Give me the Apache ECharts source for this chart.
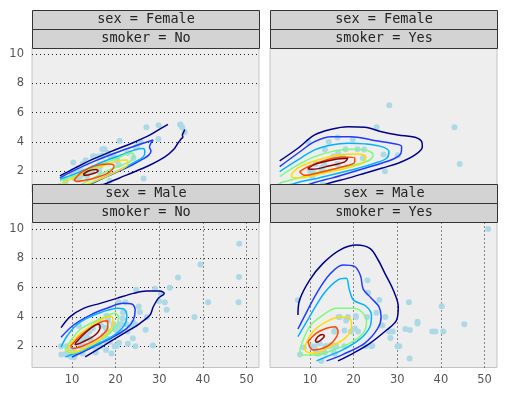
<!DOCTYPE html>
<html>
<head>
<meta charset="utf-8">
<title>tips facets</title>
<script src="https://cdn.jsdelivr.net/npm/echarts@6/dist/echarts.min.js"></script>
<style>
  html, body { margin: 0; padding: 0; background: #fff; }
  #main { width: 507px; height: 398px; }
</style>
</head>
<body>
<div id="main"></div>
<script>
// facet titles, order: top-left, top-right, bottom-left, bottom-right
var sexLabels = ['sex = Female', 'sex = Female', 'sex = Male', 'sex = Male'];
var smokerLabels = ['smoker = No', 'smoker = Yes', 'smoker = No', 'smoker = Yes'];
var xTicks = [10, 20, 30, 40, 50];
var yTicks = [2, 4, 6, 8, 10];

// [total_bill, tip]
var femaleNo = [[16.99,1.01],[24.59,3.61],[35.26,5.0],[14.83,3.02],[10.33,1.67],[16.97,3.5],[20.29,2.75],[15.77,2.23],[19.65,3.0],[15.06,3.0],[20.69,2.45],[16.93,3.07],[10.29,2.6],[34.81,5.2],[26.41,1.5],[16.45,2.47],[17.07,3.0],[14.73,2.2],[10.07,1.83],[34.83,5.17],[22.75,3.25],[20.92,4.08],[7.25,1.0],[25.71,4.0],[17.31,3.5],[10.65,1.5],[12.43,1.8],[24.08,2.92],[13.42,1.68],[12.48,2.52],[29.8,4.2],[14.52,2.0],[11.38,2.0],[20.27,2.83],[11.17,1.5],[12.26,2.0],[18.26,3.25],[8.51,1.25],[10.33,2.0],[14.15,2.0],[13.16,2.75],[17.47,3.5],[27.05,5.0],[16.43,2.3],[8.35,1.5],[18.64,1.36],[11.87,1.63],[29.85,5.14],[25.0,3.75],[13.39,2.61],[16.21,2.0],[15.98,3.0],[35.83,4.67],[18.78,3.0]];
var femaleYes = [[3.07,1.0],[26.86,3.14],[25.28,5.0],[5.75,1.0],[16.32,4.3],[11.35,2.5],[15.38,3.0],[44.3,2.5],[22.42,3.48],[14.31,4.0],[17.51,3.0],[10.59,1.61],[10.63,2.0],[9.6,4.0],[20.9,3.5],[18.15,3.5],[19.81,4.19],[43.11,5.0],[13.0,2.0],[12.74,2.01],[13.0,2.0],[16.4,2.5],[16.47,3.23],[12.76,2.23],[13.27,2.5],[28.17,6.5],[12.9,1.1],[30.14,3.09],[13.42,3.48],[16.27,2.5],[10.09,2.0],[22.12,2.88],[27.18,2.0]];
var maleNo = [[10.34,1.66],[21.01,3.5],[23.68,3.31],[25.29,4.71],[8.77,2.0],[26.88,3.12],[15.04,1.96],[14.78,3.23],[10.27,1.71],[15.42,1.57],[18.43,3.0],[21.58,3.92],[16.29,3.71],[20.65,3.35],[17.92,4.08],[39.42,7.58],[19.82,3.18],[17.81,2.34],[13.37,2.0],[12.69,2.0],[21.7,4.3],[9.55,1.45],[18.35,2.5],[17.78,3.27],[24.06,3.6],[16.31,2.0],[18.69,2.31],[31.27,5.0],[16.04,2.24],[17.46,2.54],[13.94,3.06],[9.68,1.32],[30.4,5.6],[18.29,3.0],[22.23,5.0],[32.4,6.0],[28.55,2.05],[18.04,3.0],[12.54,2.5],[9.94,1.56],[25.56,4.34],[19.49,3.51],[48.27,6.73],[17.59,2.64],[20.08,3.15],[20.23,2.01],[12.02,1.97],[10.51,1.25],[27.2,4.0],[22.76,3.0],[17.29,2.71],[16.66,3.4],[15.98,2.03],[13.03,2.0],[18.28,4.0],[24.71,5.85],[21.16,3.0],[22.49,3.5],[12.46,1.5],[18.24,3.76],[14.0,3.0],[38.07,4.0],[23.95,2.55],[29.93,5.07],[11.69,2.31],[14.26,2.5],[15.95,2.0],[8.52,1.48],[22.82,2.18],[19.08,1.5],[34.3,6.7],[41.19,5.0],[9.78,1.73],[7.51,2.0],[14.07,2.5],[13.13,2.0],[17.26,2.74],[24.55,2.0],[19.77,2.0],[48.17,5.0],[16.49,2.0],[21.5,3.5],[12.66,2.5],[13.81,2.0],[24.52,3.48],[20.76,2.24],[31.71,4.5],[20.69,5.0],[7.56,1.44],[48.33,9.0],[20.45,3.0],[13.28,2.72],[11.61,3.39],[10.77,1.47],[10.07,1.25],[29.03,5.92],[17.82,1.75]];
var maleYes = [[38.01,3.0],[11.24,1.76],[20.29,3.21],[13.81,2.0],[11.02,1.98],[18.29,3.76],[15.01,2.09],[17.92,3.08],[19.44,3.0],[32.68,5.0],[28.97,3.0],[40.17,4.73],[27.28,4.0],[12.03,1.5],[21.01,3.0],[15.36,1.64],[20.49,4.06],[25.21,4.29],[16.0,2.0],[50.81,10.0],[15.81,3.16],[7.25,5.15],[31.85,3.18],[16.82,4.0],[32.9,3.11],[17.89,2.0],[14.48,2.0],[34.63,3.55],[34.65,3.68],[23.33,5.65],[45.35,3.5],[23.17,6.5],[40.55,3.0],[30.46,2.0],[23.1,4.0],[15.69,1.5],[28.44,2.56],[15.48,2.02],[16.58,4.0],[10.34,2.0],[13.51,2.0],[18.71,4.0],[20.53,4.0],[26.59,3.41],[38.73,3.0],[24.27,2.03],[30.06,2.0],[25.89,5.16],[28.15,3.0],[11.59,1.5],[7.74,1.44],[12.16,2.2],[8.58,1.92],[13.42,1.58],[24.01,2.0],[15.69,3.0],[15.53,3.0],[12.6,1.0],[32.83,1.17],[22.67,2.0]];

// density contours: one entry per level (outer to inner), each a list of line pieces
var femaleNoContours = [
  [[[32.0,5.2],[30.2,4.89],[27.9,4.48],[24.0,3.95],[18.74,3.32],[14.18,2.74],[10.75,2.23],[7.25,1.68]],
   [[15.8,0.9],[18.7,1.27],[22.6,1.75],[27.9,2.43],[31.3,2.98],[33.4,3.52],[34.3,3.93],[35.0,4.2],[35.4,4.34],[35.3,4.48],[35.6,4.68],[35.83,4.85]]],
  [[[7.25,1.55],[10.75,2.09],[15.3,2.71],[19.9,3.25],[24.45,3.73],[27.9,4.07],[28.6,4.14],[28.1,3.93],[27.76,3.66],[28.1,3.39],[27.65,3.12],[26.28,2.84],[23.77,2.43],[19.9,1.89],[15.3,1.27],[13.0,0.95]]],
  [[[7.25,1.45],[11.9,1.96],[16.5,2.57],[21.0,3.08],[24.45,3.46],[26.3,3.56],[26.7,3.32],[26.3,2.98],[24.45,2.64],[21.0,2.09],[16.5,1.48],[13.7,1.07],[12.5,0.9]]],
  [[[7.25,1.33],[11.9,1.82],[16.5,2.43],[20.6,2.91],[23.3,3.25],[24.2,3.12],[23.8,2.77],[21.5,2.43],[17.6,1.96],[14.2,1.41],[11.4,1.0],[10.5,0.9]]],
  [[[7.8,1.18],[11.9,1.75],[16.5,2.3],[20.6,2.71],[22.6,2.77],[22.85,2.5],[21.0,2.09],[17.6,1.61],[14.2,1.2],[11.9,0.93]]],
  [[[10.5,1.41],[12.35,1.96],[15.3,2.37],[18.3,2.5],[19.66,2.37],[18.7,1.96],[16.0,1.61],[13.0,1.38],[11.0,1.3],[10.5,1.41]]],
  [[[12.58,1.79],[13.72,2.02],[15.55,2.12],[16.0,2.02],[14.6,1.82],[13.04,1.72],[12.58,1.79]]]
];
var femaleYesContours = [
  [[[3.07,2.71],[7.24,3.57],[11.08,4.48],[14.92,4.87],[18.74,5.04],[22.57,5.0],[26.4,4.7],[30.2,4.48],[34.07,4.32],[35.6,4.02],[35.75,3.68],[34.07,3.12],[30.2,2.55],[26.4,2.21],[22.57,1.87],[18.74,1.53],[14.92,1.23],[11.08,0.88]]],
  [[[3.07,2.32],[7.24,3.23],[11.08,4.02],[14.92,4.36],[19.52,4.36],[24.1,4.14],[28.7,3.91],[31.0,3.68],[30.85,3.23],[29.47,2.89],[26.4,2.55],[22.57,2.21],[18.74,1.87],[14.92,1.53],[11.08,1.23],[7.6,0.87]]],
  [[[3.07,1.98],[7.24,2.77],[11.08,3.46],[14.92,3.8],[18.74,3.91],[22.57,3.87],[26.4,3.68],[28.1,3.34],[27.56,2.89],[24.85,2.55],[21.0,2.21],[16.4,1.87],[11.84,1.53],[7.24,1.23],[4.18,0.87]]],
  [[[3.07,1.64],[7.24,2.43],[11.08,3.0],[14.92,3.34],[19.52,3.5],[22.57,3.46],[24.5,3.12],[23.7,2.77],[21.0,2.5],[16.4,2.21],[11.08,1.87],[7.24,1.53],[3.4,1.23],[3.07,1.15]]],
  [[[5.8,1.82],[7.63,2.3],[11.77,2.77],[16.83,3.12],[20.97,3.18],[22.8,2.98],[22.1,2.57],[17.98,2.19],[12.23,1.82],[7.63,1.55],[5.8,1.62],[5.8,1.82]]],
  [[[7.63,1.98],[9.93,2.37],[13.38,2.74],[17.29,2.98],[20.27,2.91],[20.27,2.64],[16.83,2.26],[12.23,1.92],[8.78,1.72],[7.63,1.98]]],
  [[[9.47,2.19],[11.77,2.54],[15.68,2.81],[18.67,2.89],[17.98,2.64],[14.53,2.37],[10.39,2.13],[9.47,2.19]]]
];
var maleNoContours = [
  [[[7.51,3.27],[9.61,4.02],[12.65,4.59],[16.46,4.93],[20.27,5.27],[24.06,5.61],[27.12,5.77],[30.16,5.77],[31.14,5.61],[29.77,5.27],[28.63,4.7],[27.88,4.13],[25.6,3.57],[22.56,3.0],[18.74,2.31],[15.7,1.75],[13.04,1.27]]],
  [[[7.51,2.61],[10.38,3.45],[14.2,4.13],[18.01,4.59],[21.8,4.93],[23.73,4.88],[24.48,4.47],[24.06,3.79],[22.56,3.22],[19.5,2.65],[15.7,2.08],[11.9,1.52],[10.0,1.27]]],
  [[[7.51,1.95],[9.0,2.75],[11.5,3.57],[16.07,4.25],[20.64,4.59],[22.17,4.47],[22.56,4.02],[21.78,3.34],[19.13,2.65],[15.32,2.09],[10.75,1.52],[8.5,1.27]]],
  [[[8.47,1.75],[10.0,2.5],[12.28,3.23],[16.85,3.91],[19.89,4.25],[20.64,4.02],[20.27,3.45],[17.6,2.65],[13.79,1.97],[10.0,1.52],[8.47,1.75]]],
  [[[8.9,1.8],[10.8,2.55],[13.0,3.1],[16.8,3.85],[18.9,4.05],[19.4,3.7],[18.5,3.0],[15.3,2.25],[11.5,1.68],[9.5,1.6],[8.9,1.8]]],
  [[[9.7,2.0],[11.5,2.6],[13.8,3.15],[17.0,3.7],[18.2,3.75],[18.2,3.3],[16.0,2.55],[12.3,2.0],[10.2,1.85],[9.7,2.0]]],
  [[[10.75,2.2],[13.79,3.11],[16.07,3.5],[16.46,3.34],[15.32,2.77],[12.28,2.27],[10.75,2.1],[10.75,2.2]]]
];
var maleYesContours = [
  [[[7.25,4.13],[7.63,5.16],[9.93,6.52],[12.99,7.66],[16.83,8.57],[20.67,8.91],[23.72,8.68],[25.63,7.89],[27.17,6.98],[29.08,5.84],[30.23,4.7],[29.86,3.79],[27.56,3.11],[23.72,2.2],[19.89,1.52],[16.44,1.0]]],
  [[[7.25,3.18],[9.0,4.2],[11.5,5.6],[14.5,6.9],[17.6,7.55],[20.2,7.45],[21.6,6.8],[22.2,5.9],[24.0,5.3],[25.8,4.7],[26.3,4.0],[25.5,3.2],[22.5,2.2],[17.6,1.45],[13.8,1.0]]],
  [[[7.25,2.65],[9.5,3.8],[13.2,5.6],[16.5,6.55],[18.3,6.65],[19.0,5.9],[20.0,5.15],[22.8,4.75],[24.1,4.1],[23.7,3.3],[21.5,2.5],[17.5,1.75],[13.5,1.25],[11.5,1.0]]],
  [[[7.63,1.75],[9.93,3.34],[12.99,4.13],[16.07,4.59],[19.89,4.59],[21.82,4.36],[22.97,3.68],[22.18,2.89],[19.13,2.2],[15.29,1.75],[11.47,1.41],[8.39,1.41],[7.63,1.75]]],
  [[[8.78,1.97],[10.7,3.0],[13.77,3.68],[16.83,3.98],[19.13,3.91],[19.52,3.34],[17.98,2.54],[14.53,1.97],[11.08,1.52],[9.17,1.63],[8.78,1.97]]],
  [[[9.54,2.31],[11.47,2.89],[13.77,3.23],[15.68,3.34],[16.44,3.0],[15.29,2.31],[12.99,1.86],[10.7,1.75],[9.54,2.31]]],
  [[[11.2,2.35],[11.8,2.65],[12.9,2.8],[13.3,2.7],[12.6,2.45],[11.6,2.28],[11.2,2.35]]]
];

var levelColors = ['#00008b', '#1e3cff', '#00b2ff', '#7dfa7d', '#ffdc00', '#ff4a00', '#8b0000'];

var panelPoints = [femaleNo, femaleYes, maleNo, maleYes];
var panelContours = [femaleNoContours, femaleYesContours, maleNoContours, maleYesContours];
var panelLeft = [32, 270, 32, 270];
var panelTop = [47.5, 47.5, 222.5, 222.5];
var showXLabel = [false, false, true, true];
var showYLabel = [true, false, true, false];
var showXGrid = [false, false, true, true];
var showYGrid = [true, false, true, false];

var grids = [], xAxes = [], yAxes = [], series = [], graphics = [];
var dotted = { color: '#222', width: 1, type: [1, 3] };

for (var i = 0; i < 4; i++) {
    grids.push({
        left: panelLeft[i], top: panelTop[i], width: 227, height: 145,
        show: true, backgroundColor: '#eeeeee', borderColor: '#c4c4c4', borderWidth: 1
    });
    xAxes.push({
        type: 'value', gridIndex: i, min: 0.85, max: 52.85,
        axisLine: { show: false },
        axisTick: { show: false, customValues: xTicks },
        axisLabel: { show: showXLabel[i], customValues: xTicks, color: '#555',
                     fontSize: 11.5, fontFamily: 'DejaVu Sans', margin: 7 },
        splitLine: { show: showXGrid[i], lineStyle: dotted }
    });
    yAxes.push({
        type: 'value', gridIndex: i, min: 0.55, max: 10.45,
        axisLine: { show: false },
        axisTick: { show: false, customValues: yTicks },
        axisLabel: { show: showYLabel[i], customValues: yTicks, color: '#555',
                     fontSize: 11.5, fontFamily: 'DejaVu Sans', margin: 8 },
        splitLine: { show: showYGrid[i], lineStyle: dotted }
    });
    series.push({
        type: 'scatter', xAxisIndex: i, yAxisIndex: i, data: panelPoints[i],
        symbolSize: 6, itemStyle: { color: '#add8e6', opacity: 1 }, z: 2, silent: true
    });
    panelContours[i].forEach(function (level, li) {
        level.forEach(function (piece) {
            series.push({
                type: 'line', xAxisIndex: i, yAxisIndex: i, data: piece,
                showSymbol: false, smooth: 0.35, silent: true, z: 3,
                lineStyle: { color: levelColors[li], width: 1.5 }
            });
        });
    });

    // facet header strips
    var hx = panelLeft[i] + 0.5;
    var hy = i < 2 ? 10.5 : 184.5;
    [sexLabels[i], smokerLabels[i]].forEach(function (txt, k) {
        graphics.push({
            type: 'rect', z: 100,
            shape: { x: hx, y: hy + k * 19, width: 227, height: 19 },
            style: { fill: '#d3d3d3', stroke: '#333', lineWidth: 1 }
        });
        graphics.push({
            type: 'text', z: 101,
            x: hx + 113.5, y: hy + k * 19 + 8.5,
            style: { text: txt, fill: '#222', font: '13.5px "DejaVu Sans Mono"',
                     textAlign: 'center', textVerticalAlign: 'middle' }
        });
    });
}

var chart = echarts.init(document.getElementById('main'), null, { renderer: 'canvas' });
chart.setOption({
    animation: false,
    backgroundColor: '#ffffff',
    grid: grids,
    xAxis: xAxes,
    yAxis: yAxes,
    series: series,
    graphic: graphics
});
</script>
</body>
</html>
